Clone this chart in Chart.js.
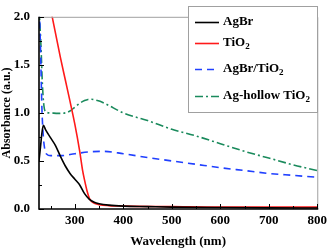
<!DOCTYPE html>
<html>
<head>
<meta charset="utf-8">
<script src="https://cdn.jsdelivr.net/npm/chart.js@4"></script>
<style>
  html, body { margin: 0; padding: 0; background: #fff; }
  canvas { display: block; }
</style>
</head>
<body>
<canvas id="absChart" width="331" height="250"></canvas>
<script>
const agbrX = [226, 229, 232, 235, 240, 250, 260, 270, 280, 290, 300, 310, 320, 330, 340, 350, 370, 400, 450, 500, 600, 700, 800];
const agbrY = [0.5, 0.64, 0.79, 0.87, 0.82, 0.74, 0.66, 0.55, 0.45, 0.37, 0.31, 0.25, 0.16, 0.10, 0.07, 0.055, 0.04, 0.03, 0.025, 0.02, 0.015, 0.012, 0.01];

const tio2X = [250, 260, 270, 280, 290, 300, 310, 316, 320, 325, 330, 335, 340, 350, 370, 400, 500, 600, 700, 800];
const tio2Y = [2.08, 1.83, 1.58, 1.35, 1.12, 0.88, 0.60, 0.40, 0.30, 0.19, 0.11, 0.075, 0.06, 0.045, 0.035, 0.03, 0.025, 0.02, 0.02, 0.02];

const agbrTio2X = [226, 229, 232, 235, 238, 242, 250, 270, 300, 330, 360, 400, 450, 500, 550, 600, 650, 700, 750, 800];
const agbrTio2Y = [2.2, 1.7, 1.05, 0.75, 0.62, 0.57, 0.555, 0.555, 0.575, 0.595, 0.60, 0.575, 0.535, 0.50, 0.465, 0.43, 0.40, 0.37, 0.35, 0.33];

const hollowX = [226, 230, 233, 236, 240, 250, 265, 280, 290, 300, 310, 320, 327, 334, 342, 352, 365, 400, 433, 450, 500, 550, 600, 650, 700, 750, 800];
const hollowY = [2.1, 1.7, 1.3, 1.08, 1.01, 1.0, 0.995, 1.0, 1.02, 1.06, 1.10, 1.128, 1.14, 1.142, 1.135, 1.12, 1.09, 1.0, 0.945, 0.92, 0.83, 0.76, 0.68, 0.60, 0.53, 0.46, 0.40];

const xTicks = [300, 400, 500, 600, 700, 800];
const xMinor = [250, 350, 450, 550, 650, 750];
const yTicks = [0, 0.5, 1.0, 1.5, 2.0];
const yMinor = [0.25, 0.75, 1.25, 1.75];

const serif = '"Liberation Serif", "Times New Roman", serif';

function puntos(xs, ys) {
    return xs.map((x, i) => ({ x: x, y: ys[i] }));
}

function serie(label, xs, ys, color, dash) {
    return {
        label: label,
        data: puntos(xs, ys),
        borderColor: color,
        backgroundColor: color,
        borderWidth: 1.6,
        borderDash: dash,
        pointRadius: 0,
        tension: 0.4,
        cubicInterpolationMode: 'monotone'
    };
}

// Marco y marcas hacia dentro
const marcoPlugin = {
    id: 'marco',
    afterDatasetsDraw(chart) {
        const { ctx, chartArea: a, scales } = chart;
        const x = scales.x, y = scales.y;
        ctx.save();
        ctx.strokeStyle = '#a0a0a0';
        ctx.lineWidth = 1;
        ctx.beginPath();
        ctx.moveTo(a.left, a.top + 0.5);
        ctx.lineTo(a.right + 0.5, a.top + 0.5);
        ctx.lineTo(a.right + 0.5, a.bottom);
        ctx.stroke();

        ctx.strokeStyle = '#000';
        ctx.lineWidth = 1;
        ctx.beginPath();
        xTicks.concat(xMinor).forEach(v => {
            const px = Math.round(x.getPixelForValue(v)) + 0.5;
            const len = xTicks.includes(v) ? 5 : 3;
            ctx.moveTo(px, a.bottom);
            ctx.lineTo(px, a.bottom - len);
        });
        yTicks.concat(yMinor).forEach(v => {
            const py = Math.round(y.getPixelForValue(v)) + 0.5;
            const len = yTicks.includes(v) ? 5 : 3;
            ctx.moveTo(a.left, py);
            ctx.lineTo(a.left + len, py);
        });
        ctx.stroke();

        ctx.lineWidth = 1.6;
        ctx.beginPath();
        ctx.moveTo(a.left, a.top);
        ctx.lineTo(a.left, a.bottom);
        ctx.lineTo(a.right + 1, a.bottom);
        ctx.stroke();
        ctx.restore();
    }
};

// Leyenda dentro del área con subíndices
const leyendaPlugin = {
    id: 'leyenda',
    afterDraw(chart) {
        const ctx = chart.ctx;
        const filas = [22, 43, 69, 96];
        ctx.save();
        ctx.fillStyle = '#fff';
        ctx.fillRect(188, 6, 130, 106);
        ctx.strokeStyle = '#a0a0a0';
        ctx.lineWidth = 1;
        ctx.strokeRect(188.5, 6.5, 129, 106);
        chart.data.datasets.forEach((ds, i) => {
            const yy = filas[i];
            ctx.strokeStyle = ds.borderColor;
            ctx.lineWidth = 1.6;
            ctx.setLineDash(ds.borderDash || []);
            ctx.beginPath();
            ctx.moveTo(195, yy + 0.5);
            ctx.lineTo(219, yy + 0.5);
            ctx.stroke();
            ctx.setLineDash([]);

            ctx.fillStyle = '#000';
            ctx.textBaseline = 'middle';
            ctx.textAlign = 'left';
            let xx = 223;
            const partes = ds.label.split(/(TiO)2/);
            partes.forEach(p => {
                if (p === '') return;
                ctx.font = 'bold 13px ' + serif;
                ctx.fillText(p, xx, yy);
                xx += ctx.measureText(p).width;
                if (p === 'TiO') {
                    ctx.font = 'bold 9px ' + serif;
                    ctx.fillText('2', xx, yy + 4);
                    xx += ctx.measureText('2').width;
                }
            });
        });
        ctx.restore();
    }
};

const ctx = document.getElementById('absChart').getContext('2d');
new Chart(ctx, {
    type: 'line',
    data: {
        datasets: [
            serie('AgBr', agbrX, agbrY, '#000000', []),
            serie('TiO2', tio2X, tio2Y, '#ff1a1a', []),
            serie('AgBr/TiO2', agbrTio2X, agbrTio2Y, '#2040ff', [7, 5]),
            serie('Ag-hollow TiO2', hollowX, hollowY, '#1a8a5c', [8, 3, 2, 3])
        ]
    },
    options: {
        responsive: false,
        animation: false,
        devicePixelRatio: 1,
        layout: { padding: { top: 6, right: 11, left: 0, bottom: 0 } },
        plugins: {
            legend: { display: false },
            tooltip: { enabled: false }
        },
        scales: {
            x: {
                type: 'linear',
                min: 226,
                max: 800,
                afterFit: s => { s.height = 41; },
                afterBuildTicks: s => { s.ticks = xTicks.map(v => ({ value: v })); },
                ticks: { color: '#000', font: { family: serif, size: 13, weight: 'bold' }, padding: 4, maxRotation: 0, autoSkip: false },
                grid: { display: false, drawTicks: false },
                border: { display: false },
                title: { display: true, text: 'Wavelength (nm)', color: '#000', font: { family: serif, size: 13, weight: 'bold' }, padding: { top: 0, bottom: 1 } }
            },
            y: {
                min: 0,
                max: 2,
                afterFit: s => { s.width = 39; },
                afterBuildTicks: s => { s.ticks = yTicks.map(v => ({ value: v })); },
                ticks: { color: '#000', font: { family: serif, size: 13, weight: 'bold' }, padding: 9, callback: v => v.toFixed(1) },
                grid: { display: false, drawTicks: false },
                border: { display: false },
                title: { display: true, text: 'Absorbance (a.u.)', color: '#000', font: { family: serif, size: 12, weight: 'bold' }, padding: { top: 0, bottom: 0 } }
            }
        }
    },
    plugins: [marcoPlugin, leyendaPlugin]
});
</script>
</body>
</html>
